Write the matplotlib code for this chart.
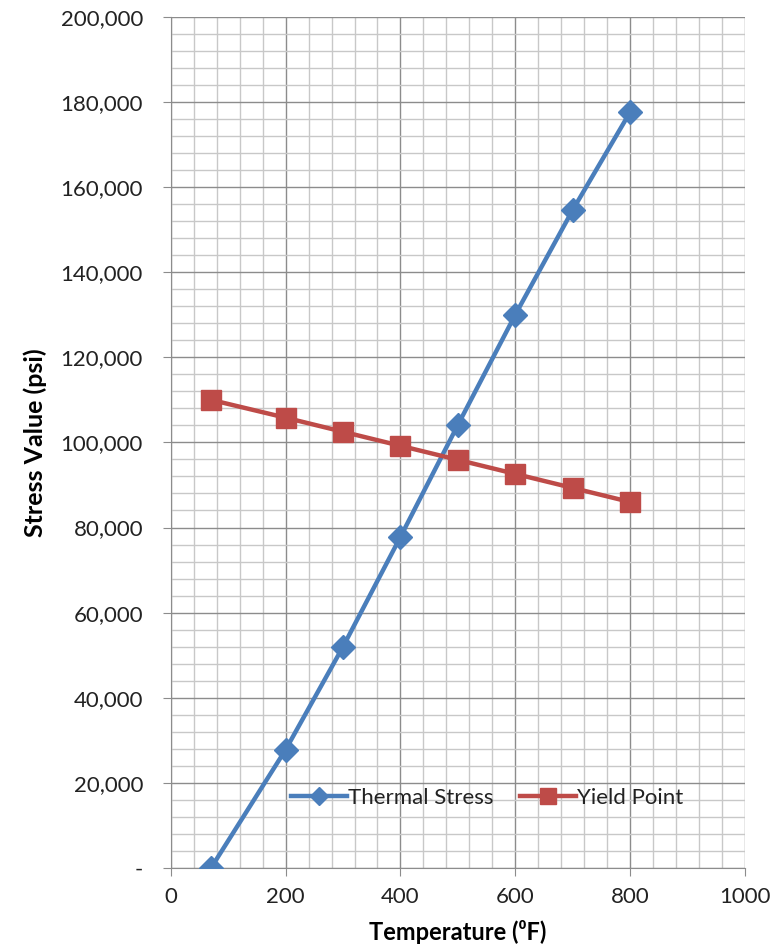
import matplotlib.pyplot as plt
from matplotlib.ticker import MultipleLocator, FuncFormatter

# data
temps = [70, 200, 300, 400, 500, 600, 700, 800]
thermal_stress = [0, 27800, 52000, 77800, 104100, 130000, 154600, 177600]
yield_point = [110000, 105800, 102500, 99200, 95900, 92600, 89300, 86000]

plt.rcParams['font.family'] = ['Lato', 'DejaVu Sans']

fig = plt.figure(figsize=(7.8, 9.51), dpi=100)
ax = fig.add_axes([0.219, 0.0873, 0.736, 0.895])

blue = '#4a7ebb'
red = '#be4b48'

ax.plot(temps, thermal_stress, color=blue, lw=3.2, marker='D', ms=12,
        label='Thermal Stress', zorder=3)
ax.plot(temps, yield_point, color=red, lw=3.2, marker='s', ms=15,
        label='Yield Point', zorder=3)

ax.set_xlim(0, 1000)
ax.set_ylim(0, 200000)
ax.xaxis.set_major_locator(MultipleLocator(200))
ax.xaxis.set_minor_locator(MultipleLocator(40))
ax.yaxis.set_major_locator(MultipleLocator(20000))
ax.yaxis.set_minor_locator(MultipleLocator(4000))

def yfmt(v, pos):
    if v == 0:
        return '-'
    return f'{int(v):,}'

ax.yaxis.set_major_formatter(FuncFormatter(yfmt))

ax.grid(which='major', color='#8c8c8c', lw=1.0)
ax.grid(which='minor', color='#c8c8c8', lw=1.0)
ax.set_axisbelow(True)

for s in ax.spines.values():
    s.set_color('#8c8c8c')
ax.spines['top'].set_visible(False)
ax.spines['right'].set_visible(False)

ax.tick_params(which='major', length=6, color='#8c8c8c', labelsize=16,
               labelcolor='#222222')
ax.tick_params(which='minor', length=0)
ax.tick_params(axis='y', pad=14)
ax.tick_params(axis='x', pad=8)

ax.set_xlabel('Temperature (\u2070F)', fontsize=17, fontweight='bold', labelpad=9)
ax.set_ylabel('Stress Value (psi)', fontsize=18, fontweight='bold', labelpad=10)

ax.legend(loc='lower left', bbox_to_anchor=(0.175, 0.047), ncol=2, frameon=False,
          fontsize=16, handlelength=2.5, handletextpad=0.05, columnspacing=1.2,
          markerscale=0.8, labelcolor='#222222')

fig.savefig('out.png', dpi=100)
